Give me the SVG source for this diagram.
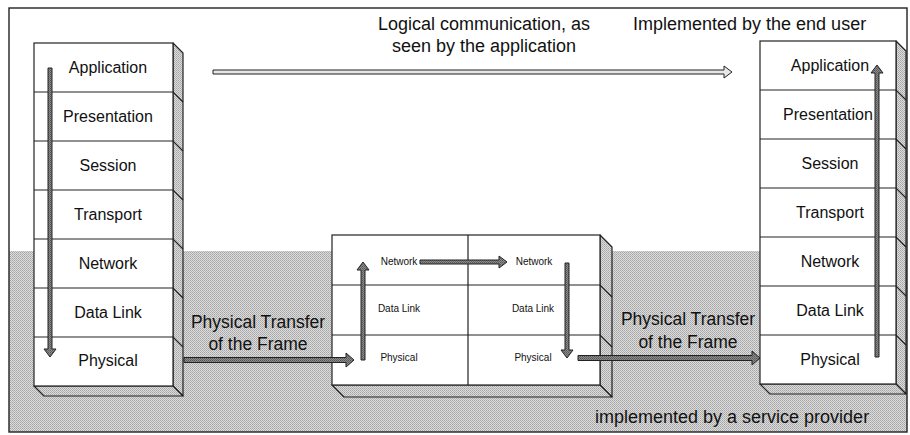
<svg xmlns="http://www.w3.org/2000/svg" width="910" height="435" viewBox="0 0 910 435">
<defs>
<pattern id="dots" width="2" height="2" patternUnits="userSpaceOnUse">
<rect width="2" height="2" fill="#dcdcdc"/>
<rect width="1" height="1" fill="#a4a4a4"/>
<rect x="1" y="1" width="1" height="1" fill="#b4b4b4"/>
</pattern>
<pattern id="dark" width="2" height="2" patternUnits="userSpaceOnUse">
<rect width="2" height="2" fill="#8c8c8c"/>
<rect width="1" height="1" fill="#555"/>
<rect x="1" y="1" width="1" height="1" fill="#666"/>
</pattern>
</defs>
<style>
.t{font-family:"Liberation Sans",Arial,sans-serif;fill:#111;}
.s16{font-size:16px;text-anchor:middle;}
.s10{font-size:10px;text-anchor:middle;}
.s18{font-size:18px;}
.front{fill:#fff;stroke:#222;stroke-width:1.2;}
.face{fill:url(#dots);stroke:#222;stroke-width:1.2;stroke-linejoin:round;}
.ln{stroke:#222;stroke-width:1.2;fill:none;}
.arr{fill:url(#dark);stroke:#222;stroke-width:1;stroke-linejoin:round;}
.hollow{fill:#e6e6e6;stroke:#222;stroke-width:1;stroke-linejoin:round;}
</style>
<rect x="0" y="0" width="910" height="435" fill="#fff"/>
<rect x="9" y="251" width="898" height="181" fill="url(#dots)"/>
<rect x="9" y="8" width="898" height="424" fill="none" stroke="#222" stroke-width="1.4"/>

<g id="stack-left">
<polygon class="face" points="173,43 183,53 183,396 173,386"/>
<polygon class="face" points="34,386 173,386 183,396 44,396"/>
<rect class="front" x="34" y="43" width="139" height="343"/>
<path class="ln" d="M34,92H173L183,102M34,141H173L183,151M34,190H173L183,200M34,239H173L183,249M34,288H173L183,298M34,337H173L183,347"/>
<text class="t s16" x="108" y="73">Application</text>
<text class="t s16" x="108" y="122">Presentation</text>
<text class="t s16" x="108" y="171">Session</text>
<text class="t s16" x="108" y="220">Transport</text>
<text class="t s16" x="108" y="269">Network</text>
<text class="t s16" x="108" y="318">Data Link</text>
<text class="t s16" x="108" y="366">Physical</text>
</g>

<g id="router">
<polygon class="face" points="600,235 612,247 612,397 600,385"/>
<polygon class="face" points="332,385 600,385 612,397 344,397"/>
<rect class="front" x="332" y="235" width="268" height="150"/>
<path class="ln" d="M332,285H600L612,297M332,335H600L612,347M468,235V385"/>
<text class="t s10" x="399" y="265">Network</text>
<text class="t s10" x="399" y="312">Data Link</text>
<text class="t s10" x="399" y="361">Physical</text>
<text class="t s10" x="534" y="265">Network</text>
<text class="t s10" x="533" y="312">Data Link</text>
<text class="t s10" x="533" y="361">Physical</text>
</g>

<g id="stack-right">
<polygon class="face" points="896,41 906,51 906,394 896,384"/>
<polygon class="face" points="760,384 896,384 906,394 770,394"/>
<rect class="front" x="760" y="41" width="136" height="343"/>
<path class="ln" d="M760,90H896L906,100M760,139H896L906,149M760,188H896L906,198M760,237H896L906,247M760,286H896L906,296M760,335H896L906,345"/>
<text class="t s16" x="830" y="71">Application</text>
<text class="t s16" x="828" y="120">Presentation</text>
<text class="t s16" x="830" y="169">Session</text>
<text class="t s16" x="830" y="218">Transport</text>
<text class="t s16" x="830" y="267">Network</text>
<text class="t s16" x="830" y="316">Data Link</text>
<text class="t s16" x="830" y="365">Physical</text>
</g>

<g id="connectors">
<path class="hollow" d="M213,70H724V66L732,72L724,78V74H213Z"/>
<path class="arr" d="M48,68H52V349H56L50,357L44,349H48Z"/>
<path class="arr" d="M184,357.5H346V353L354,360L346,367V362.5H184Z"/>
<path class="arr" d="M361,360V270H357L363,262L369,270H365V360Z"/>
<path class="arr" d="M420,260H499V256L507,262L499,268V264H420Z"/>
<path class="arr" d="M565,263H569V350H573L567,358L561,350H565Z"/>
<path class="arr" d="M578,355.5H752V351L760,358L752,365V360.5H578Z"/>
<path class="arr" d="M875,357V73H871L877,65L883,73H879V357Z"/>
</g>

<g id="labels">
<text class="t s18" x="484" y="30" text-anchor="middle">Logical communication, as</text>
<text class="t s18" x="484" y="52" text-anchor="middle" font-size="17.5">seen by the application</text>
<text class="t s18" x="633" y="30">Implemented by the end user</text>
<text class="t s18" x="595" y="423">implemented by a service provider</text>
<text class="t" x="258" y="328" font-size="17.5" text-anchor="middle">Physical Transfer</text>
<text class="t" x="258" y="350" font-size="17.5" text-anchor="middle">of the Frame</text>
<text class="t" x="688" y="325" font-size="17.5" text-anchor="middle">Physical Transfer</text>
<text class="t" x="688" y="348" font-size="17.5" text-anchor="middle">of the Frame</text>
</g>
</svg>
